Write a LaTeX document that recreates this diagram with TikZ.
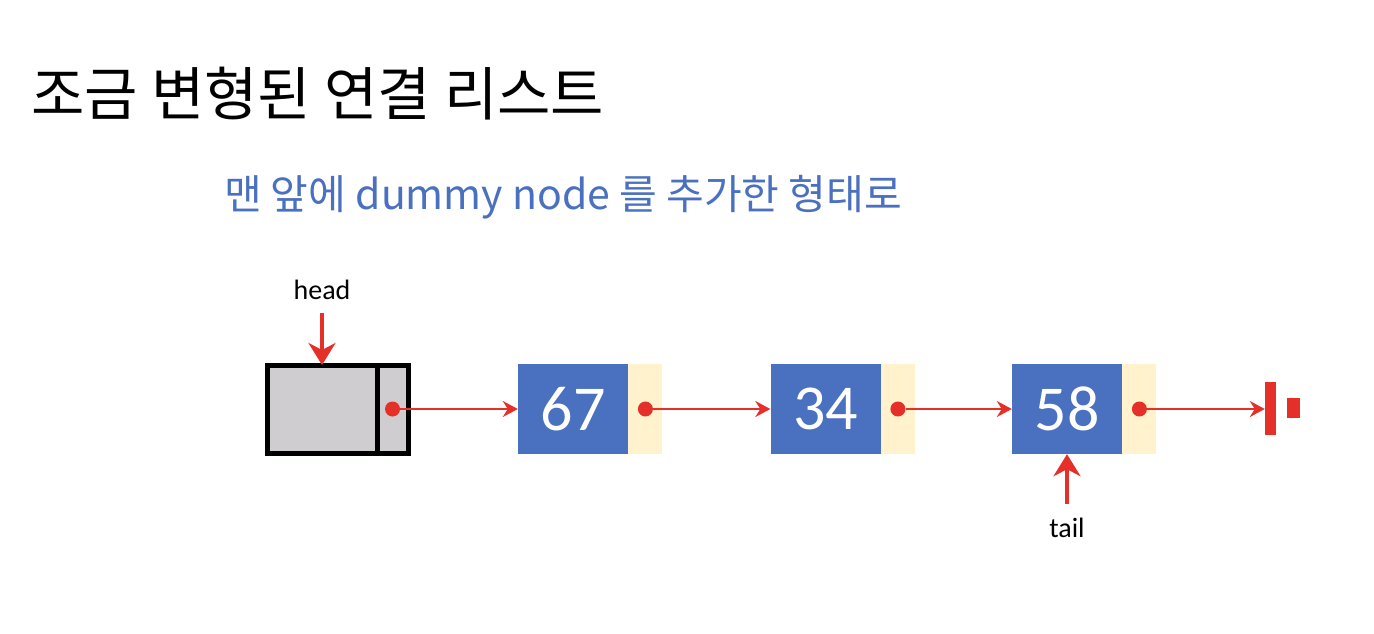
\documentclass[tikz,border=0pt]{standalone}
\usepackage{fontspec}
\setmainfont{Carlito}
\newfontfamily\kofont{Noto Sans CJK KR}
\usetikzlibrary{shapes,arrows,arrows.meta,positioning}
\definecolor{valblue}{HTML}{4A70C0}
\definecolor{linkcream}{HTML}{FFF2CC}
\definecolor{ptrred}{HTML}{E5302A}
\definecolor{dummygray}{HTML}{CFCDCF}
\tikzstyle{val} = [fill=valblue, text=white, rectangle, minimum width=110pt, minimum height=90pt, inner sep=0pt, font=\fontsize{64}{64}\selectfont]
\tikzstyle{link} = [fill=linkcream, rectangle, minimum width=34pt, minimum height=90pt, inner sep=0pt]
\tikzstyle{dummy} = [draw=black, fill=dummygray, line width=5pt, outer sep=0pt, rectangle, minimum height=88pt, inner sep=0pt]
\tikzstyle{dot} = [fill=ptrred, circle, inner sep=0pt, minimum size=15pt]
\tikzstyle{ptr} = [draw=ptrred, line width=2.2pt, -{Stealth[length=15pt, width=16pt, inset=5pt]}]
\tikzstyle{bigptr} = [draw=ptrred, line width=4pt, -{Stealth[length=22pt, width=27pt, inset=7pt]}]
\tikzstyle{lbl} = [font=\fontsize{28}{28}\selectfont]
\tikzstyle{nullpart} = [fill=ptrred, rectangle, inner sep=0pt]

\begin{document}
\begin{tikzpicture}[x=1pt, y=-1pt]

    \fill [white] (0,0) rectangle (1374,634);
    \useasboundingbox (0,0) rectangle (1374,634);

    \node [anchor=west, font=\kofont\fontsize{58}{58}\selectfont, name=title] at (28,94) {조금 변형된 연결 리스트};
    \node [font=\kofont\fontsize{41}{41}\selectfont, text=valblue, name=sub] at (563,197) {맨 앞에 dummy node 를 추가한 형태로};

    % dummy node
    \node [dummy, minimum width=110pt, name=dval] at (322,409) {};
    \node [dummy, minimum width=31pt, right=0pt of dval, name=dlink] {};
    \node [dot, name=d0] at (dlink.center) {};

    \node [lbl, above=62pt of dval, name=head] {head};

    % list nodes
    \node [val, name=v67] at (573,409) {67};
    \node [link, right=0pt of v67, name=l67] {};
    \node [dot, name=d67] at (l67.center) {};

    \node [val, name=v34] at (825.5,409) {34};
    \node [link, right=0pt of v34, name=l34] {};
    \node [dot, name=d34] at (l34.center) {};

    \node [val, name=v58] at (1067,409) {58};
    \node [link, right=0pt of v58, name=l58] {};
    \node [dot, name=d58] at (l58.center) {};

    \node [lbl, below=60pt of v58, name=tail] {tail};

    % null
    \node [nullpart, minimum width=11pt, minimum height=53pt, name=nullbar] at (1270.5,408) {};
    \node [nullpart, minimum width=13pt, minimum height=20pt, name=nullsq] at (1293.5,408) {};

    \draw [ptr] (d0) -- (v67.west);
    \draw [ptr] (d67) -- (v34.west);
    \draw [ptr] (d34) -- (v58.west);
    \draw [ptr] (d58) -- (d58 -| nullbar.west);
    \draw [bigptr, shorten <=10pt] (head) -- (dval.north);
    \draw [bigptr, shorten <=10pt] (tail) -- (v58.south);

\end{tikzpicture}
\end{document}
